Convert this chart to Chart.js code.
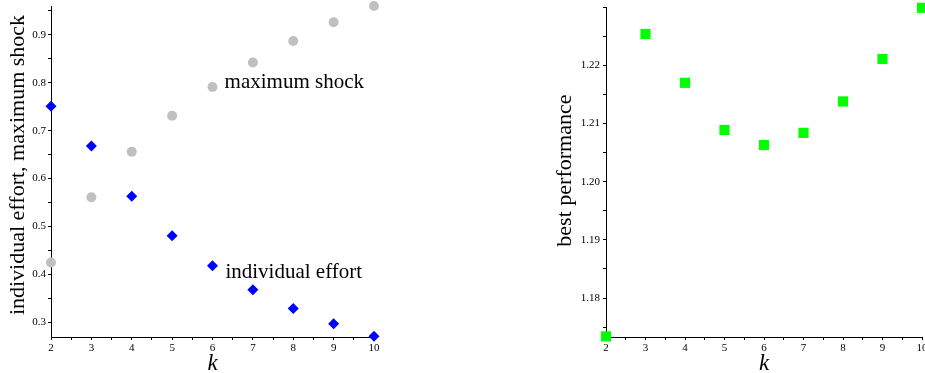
<!DOCTYPE html>
<html>
<head>
<meta charset="utf-8">
<script src="https://cdn.jsdelivr.net/npm/chart.js@4/dist/chart.umd.min.js"></script>
<style>
  html, body { margin: 0; padding: 0; background: #fff; overflow: hidden; }
  body { width: 925px; height: 373px; position: relative; overflow: hidden; }
  canvas { position: absolute; top: 0; }
  #left { left: 0; }
  #right { left: 540px; }
</style>
</head>
<body>
<canvas id="left" width="400" height="373"></canvas>
<canvas id="right" width="410" height="373"></canvas>
<script>
// ---- data ----
const kValues = [2, 3, 4, 5, 6, 7, 8, 9, 10];
const individualEffort = [0.751, 0.668, 0.563, 0.481, 0.418, 0.368, 0.329, 0.297, 0.271];
const maximumShock = [0.425, 0.561, 0.656, 0.731, 0.791, 0.842, 0.887, 0.926, 0.960];
const bestPerformance = [1.1734, 1.2254, 1.2170, 1.2089, 1.2063, 1.2084, 1.2138, 1.2211, 1.2299];

const xTickLabels = ['2', '3', '4', '5', '6', '7', '8', '9', '10'];
const leftYTickLabels = ['0.3', '0.4', '0.5', '0.6', '0.7', '0.8', '0.9'];
const rightYTickLabels = ['1.18', '1.19', '1.20', '1.21', '1.22'];

const seriesNames = ['individual effort', 'maximum shock', 'best performance'];
const leftAxisTitle = 'individual effort, maximum shock';
const rightAxisTitle = 'best performance';
const xAxisTitle = 'k';

// annotation anchors (data units: k, value)
const annotationText = ['maximum shock', 'individual effort'];
const annotationK = [6.3, 6.32];
const annotationValue = [0.8015, 0.4035];

// ---- helpers ----
const SERIF = "'Liberation Serif', 'Times New Roman', serif";

function makeTickBuilder(labels, minorDiv) {
  return function (scale) {
    const vals = labels.map(Number);
    const step = (vals[1] - vals[0]) / minorDiv;
    const ticks = [];
    const start = Math.ceil((scale.min - 1e-9) / step);
    const end = Math.floor((scale.max + 1e-9) / step);
    for (let i = start; i <= end; i++) {
      ticks.push({ value: Math.round(i * step * 1e6) / 1e6 });
    }
    scale.ticks = ticks;
  };
}

function makeTickLabel(labels) {
  const vals = labels.map(Number);
  return function (value) {
    for (let i = 0; i < vals.length; i++) {
      if (Math.abs(vals[i] - value) < 1e-7) return labels[i];
    }
    return '';
  };
}

const axisCommon = {
  grid: { drawOnChartArea: false, drawTicks: true, tickLength: 3, color: '#000', tickColor: '#000', lineWidth: 1 },
  border: { display: true, color: '#000', width: 1 }
};

function xScale() {
  return Object.assign({}, axisCommon, {
    type: 'linear',
    position: 'bottom',
    min: 2,
    max: 10,
    afterBuildTicks: makeTickBuilder(xTickLabels, 2),
    afterFit: (s) => { s.height = 36; s.paddingLeft = 0; s.paddingRight = 0; },
    ticks: {
      autoSkip: false, maxRotation: 0, minRotation: 0, padding: 2,
      color: '#000', font: { family: SERIF, size: 11 },
      callback: makeTickLabel(xTickLabels)
    },
    title: {
      display: true, text: xAxisTitle, color: '#000',
      font: { family: SERIF, size: 23, style: 'italic', lineHeight: 0.8 },
      padding: { top: 0, bottom: 0 }
    }
  });
}

function yFit(width) {
  return (s) => { s.width = width; s.paddingTop = 0; s.paddingBottom = 0; };
}

// vertical axis title drawn at an offset from the plot centre
function yTitlePlugin(text, centerX, shiftY) {
  return {
    id: 'ytitle',
    afterDraw(chart) {
      const ctx = chart.ctx;
      const a = chart.chartArea;
      ctx.save();
      ctx.translate(centerX, (a.top + a.bottom) / 2 + shiftY);
      ctx.rotate(-Math.PI / 2);
      ctx.fillStyle = '#000';
      ctx.font = '22px ' + SERIF;
      ctx.textAlign = 'center';
      ctx.textBaseline = 'middle';
      ctx.fillText(text, 0, 0);
      ctx.restore();
    }
  };
}

const annotationPlugin = {
  id: 'annot',
  afterDatasetsDraw(chart) {
    const ctx = chart.ctx;
    const xs = chart.scales.x, ys = chart.scales.y;
    ctx.save();
    ctx.fillStyle = '#000';
    ctx.font = '21px ' + SERIF;
    ctx.textAlign = 'left';
    ctx.textBaseline = 'middle';
    for (let i = 0; i < annotationText.length; i++) {
      ctx.fillText(annotationText[i], xs.getPixelForValue(annotationK[i]), ys.getPixelForValue(annotationValue[i]));
    }
    ctx.restore();
  }
};

const commonOpts = {
  responsive: false,
  animation: false,
  devicePixelRatio: 1,
  plugins: { legend: { display: false }, tooltip: { enabled: false } }
};

// ---- left chart ----
new Chart(document.getElementById('left'), {
  type: 'scatter',
  data: {
    datasets: [
      {
        label: seriesNames[1],
        data: kValues.map((k, i) => ({ x: k, y: maximumShock[i] })),
        pointStyle: 'circle', pointRadius: 5, pointBackgroundColor: '#c0c0c0',
        pointBorderWidth: 0, borderColor: '#c0c0c0', clip: false
      },
      {
        label: seriesNames[0],
        data: kValues.map((k, i) => ({ x: k, y: individualEffort[i] })),
        pointStyle: 'rectRot', pointRadius: 5.5, pointBackgroundColor: '#0000ff',
        pointBorderWidth: 0, borderColor: '#0000ff', clip: false
      }
    ]
  },
  options: Object.assign({}, commonOpts, {
    layout: { padding: { left: 0, right: 26, top: 6, bottom: 0 } },
    scales: {
      x: xScale(),
      y: Object.assign({}, axisCommon, {
        type: 'linear',
        min: 0.2696,
        max: 0.9600,
        afterBuildTicks: makeTickBuilder(leftYTickLabels, 2),
        afterFit: yFit(51),
        ticks: {
          autoSkip: false, padding: 2, color: '#000',
          font: { family: SERIF, size: 11 },
          callback: makeTickLabel(leftYTickLabels)
        },
        title: { display: false, text: leftAxisTitle }
      })
    }
  }),
  plugins: [annotationPlugin, yTitlePlugin(leftAxisTitle, 18, -6.5)]
});

// ---- right chart ----
new Chart(document.getElementById('right'), {
  type: 'scatter',
  data: {
    datasets: [
      {
        label: seriesNames[2],
        data: kValues.map((k, i) => ({ x: k, y: bestPerformance[i] })),
        pointStyle: 'rect', pointRadius: 7.2, pointBackgroundColor: '#00ff00',
        pointBorderWidth: 0, borderColor: '#00ff00', clip: false
      }
    ]
  },
  options: Object.assign({}, commonOpts, {
    layout: { padding: { left: 0, right: 28, top: 6, bottom: 0 } },
    scales: {
      x: xScale(),
      y: Object.assign({}, axisCommon, {
        type: 'linear',
        min: 1.1733,
        max: 1.2300,
        afterBuildTicks: makeTickBuilder(rightYTickLabels, 2),
        afterFit: yFit(66),
        ticks: {
          autoSkip: false, padding: 3, color: '#000',
          font: { family: SERIF, size: 11 },
          callback: makeTickLabel(rightYTickLabels)
        },
        title: { display: false, text: rightAxisTitle }
      })
    }
  }),
  plugins: [yTitlePlugin(rightAxisTitle, 25, -1.5)]
});
</script>
</body>
</html>
